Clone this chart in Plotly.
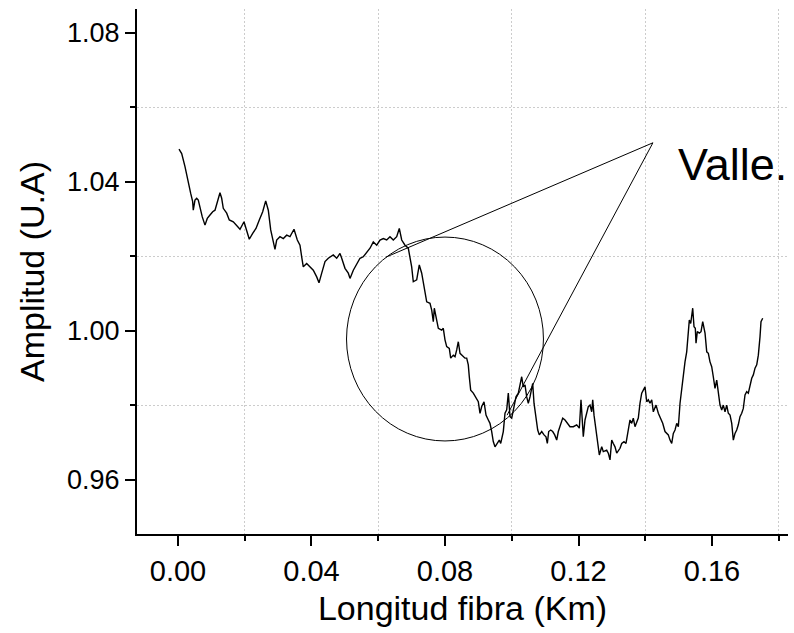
import plotly.graph_objects as go

# Fibre trace: distance along the fibre (km) and backscatter amplitude (a.u.)
longitud_km = [
    0.00030, 0.00111, 0.00210, 0.00309, 0.00381, 0.00440, 0.00458, 0.00509, 0.00560, 0.00608,
    0.00659, 0.00728, 0.00809, 0.00878, 0.00959, 0.01040, 0.01109, 0.01160, 0.01258, 0.01309,
    0.01357, 0.01459, 0.01537, 0.01657, 0.01759, 0.01858, 0.01978, 0.02058, 0.02136, 0.02238,
    0.02337, 0.02436, 0.02538, 0.02628, 0.02706, 0.02778, 0.02856, 0.02906, 0.02957, 0.03056,
    0.03155, 0.03257, 0.03356, 0.03476, 0.03575, 0.03655, 0.03706, 0.03754, 0.03856, 0.03955,
    0.04054, 0.04156, 0.04225, 0.04306, 0.04405, 0.04503, 0.04653, 0.04755, 0.04854, 0.04905,
    0.05004, 0.05103, 0.05154, 0.05253, 0.05354, 0.05453, 0.05552, 0.05654, 0.05753, 0.05852,
    0.05954, 0.06053, 0.06152, 0.06253, 0.06352, 0.06451, 0.06553, 0.06631, 0.06703, 0.06802,
    0.06900, 0.07002, 0.07050, 0.07152, 0.07230, 0.07302, 0.07350, 0.07401, 0.07452, 0.07551,
    0.07602, 0.07650, 0.07680, 0.07751, 0.07800, 0.07901, 0.07949, 0.08000, 0.08051, 0.08129,
    0.08171, 0.08249, 0.08300, 0.08351, 0.08399, 0.08450, 0.08501, 0.08549, 0.08599, 0.08650,
    0.08698, 0.08728, 0.08770, 0.08848, 0.08929, 0.08998, 0.09049, 0.09100, 0.09169, 0.09229,
    0.09298, 0.09348, 0.09399, 0.09447, 0.09498, 0.09567, 0.09627, 0.09669, 0.09747, 0.09798,
    0.09849, 0.09897, 0.09948, 0.09999, 0.10068, 0.10127, 0.10197, 0.10247, 0.10298, 0.10346,
    0.10397, 0.10448, 0.10496, 0.10547, 0.10628, 0.10667, 0.10727, 0.10778, 0.10826, 0.10898,
    0.10967, 0.11026, 0.11066, 0.11107, 0.11167, 0.11227, 0.11287, 0.11347, 0.11395, 0.11446,
    0.11527, 0.11596, 0.11665, 0.11746, 0.11845, 0.11946, 0.12025, 0.12075, 0.12144, 0.12195,
    0.12294, 0.12345, 0.12396, 0.12426, 0.12465, 0.12525, 0.12564, 0.12624, 0.12696, 0.12743,
    0.12845, 0.12893, 0.12944, 0.12995, 0.13043, 0.13094, 0.13145, 0.13244, 0.13295, 0.13363,
    0.13423, 0.13492, 0.13543, 0.13594, 0.13642, 0.13693, 0.13744, 0.13792, 0.13843, 0.13894,
    0.13942, 0.13993, 0.14044, 0.14092, 0.14143, 0.14194, 0.14242, 0.14323, 0.14392, 0.14442,
    0.14523, 0.14592, 0.14643, 0.14691, 0.14742, 0.14793, 0.14841, 0.14892, 0.14943, 0.14991,
    0.15042, 0.15093, 0.15141, 0.15191, 0.15242, 0.15290, 0.15320, 0.15362, 0.15392, 0.15422,
    0.15461, 0.15500, 0.15521, 0.15560, 0.15620, 0.15671, 0.15722, 0.15791, 0.15842, 0.15890,
    0.15940, 0.15991, 0.16039, 0.16090, 0.16141, 0.16189, 0.16240, 0.16291, 0.16339, 0.16390,
    0.16441, 0.16489, 0.16540, 0.16591, 0.16639, 0.16689, 0.16740, 0.16788, 0.16839, 0.16890,
    0.16938, 0.16989, 0.17040, 0.17088, 0.17139, 0.17190, 0.17238, 0.17289, 0.17340, 0.17388,
    0.17438, 0.17468, 0.17519,
]

amplitud = [
    1.0488, 1.0476, 1.0441, 1.0396, 1.0369, 1.0347, 1.0324, 1.0351, 1.0356, 1.0351,
    1.0329, 1.0306, 1.0284, 1.0302, 1.0311, 1.0320, 1.0324, 1.0338, 1.0371, 1.0356,
    1.0329, 1.0316, 1.0298, 1.0293, 1.0284, 1.0273, 1.0293, 1.0271, 1.0246, 1.0262,
    1.0275, 1.0298, 1.0320, 1.0349, 1.0324, 1.0271, 1.0235, 1.0219, 1.0244, 1.0253,
    1.0248, 1.0257, 1.0253, 1.0273, 1.0244, 1.0230, 1.0199, 1.0172, 1.0181, 1.0172,
    1.0163, 1.0145, 1.0129, 1.0155, 1.0186, 1.0195, 1.0204, 1.0195, 1.0208, 1.0195,
    1.0168, 1.0155, 1.0141, 1.0163, 1.0181, 1.0195, 1.0199, 1.0212, 1.0222, 1.0239,
    1.0230, 1.0244, 1.0248, 1.0244, 1.0253, 1.0244, 1.0253, 1.0275, 1.0244, 1.0230,
    1.0222, 1.0172, 1.0132, 1.0137, 1.0177, 1.0155, 1.0128, 1.0110, 1.0078, 1.0074,
    1.0056, 1.0025, 1.0061, 1.0029, 1.0007, 1.0002, 1.0007, 0.9976, 0.9958, 0.9953,
    0.9927, 0.9935, 0.9931, 0.9949, 0.9971, 0.9940, 0.9935, 0.9931, 0.9927, 0.9927,
    0.9909, 0.9877, 0.9841, 0.9833, 0.9819, 0.9810, 0.9779, 0.9797, 0.9810, 0.9774,
    0.9761, 0.9752, 0.9730, 0.9703, 0.9689, 0.9698, 0.9707, 0.9698, 0.9730, 0.9779,
    0.9788, 0.9833, 0.9770, 0.9766, 0.9797, 0.9823, 0.9833, 0.9859, 0.9877, 0.9850,
    0.9855, 0.9823, 0.9806, 0.9823, 0.9859, 0.9806, 0.9770, 0.9734, 0.9721, 0.9730,
    0.9721, 0.9716, 0.9698, 0.9730, 0.9734, 0.9730, 0.9721, 0.9707, 0.9730, 0.9743,
    0.9766, 0.9761, 0.9752, 0.9743, 0.9743, 0.9748, 0.9739, 0.9815, 0.9716, 0.9761,
    0.9797, 0.9801, 0.9783, 0.9815, 0.9774, 0.9734, 0.9716, 0.9667, 0.9689, 0.9676,
    0.9680, 0.9672, 0.9654, 0.9707, 0.9698, 0.9689, 0.9672, 0.9685, 0.9698, 0.9703,
    0.9698, 0.9739, 0.9761, 0.9752, 0.9766, 0.9743, 0.9756, 0.9766, 0.9806, 0.9833,
    0.9841, 0.9850, 0.9810, 0.9815, 0.9806, 0.9815, 0.9783, 0.9801, 0.9779, 0.9770,
    0.9752, 0.9730, 0.9725, 0.9721, 0.9707, 0.9698, 0.9725, 0.9734, 0.9752, 0.9743,
    0.9806, 0.9850, 0.9873, 0.9917, 0.9944, 1.0011, 1.0029, 1.0020, 1.0047, 1.0061,
    1.0011, 1.0007, 0.9967, 0.9998, 0.9994, 0.9998, 1.0025, 0.9994, 0.9944, 0.9940,
    0.9917, 0.9904, 0.9877, 0.9846, 0.9868, 0.9837, 0.9801, 0.9788, 0.9801, 0.9783,
    0.9801, 0.9779, 0.9774, 0.9752, 0.9707, 0.9725, 0.9734, 0.9748, 0.9770, 0.9779,
    0.9792, 0.9828, 0.9837, 0.9833, 0.9855, 0.9873, 0.9882, 0.9900, 0.9909, 0.9935,
    0.9984, 1.0025, 1.0034,
]

# Axis ticks: labelled majors, gridded minors in between
x_major = [0.00, 0.04, 0.08, 0.12, 0.16]
x_minor = [0.02, 0.06, 0.10, 0.14, 0.18]
y_major = [0.96, 1.00, 1.04, 1.08]
y_minor = [0.98, 1.02, 1.06]

FONT = "Arial, Liberation Sans, sans-serif"
GRID = dict(showgrid=True, gridcolor="#cccccc", griddash="2px,2px", gridwidth=1)

fig = go.Figure()
fig.add_trace(go.Scatter(
    x=longitud_km, y=amplitud, mode="lines",
    line=dict(color="black", width=1.4),
    showlegend=False,
))

axis_common = dict(
    showline=True, linecolor="black", linewidth=2,
    ticks="outside", ticklen=10, tickwidth=2, tickcolor="black",
    showgrid=False, zeroline=False, mirror=False,
)

fig.update_xaxes(
    **axis_common,
    range=[-0.01228, 0.18277],
    tickmode="array", tickvals=x_major,
    ticktext=[f"{v:.2f}" for v in x_major],
    tickfont=dict(family=FONT, size=29, color="black"),
    minor=dict(tickmode="array", tickvals=x_minor, ticks="outside", ticklen=5,
               tickwidth=2, tickcolor="black", **GRID),
    title=dict(text="Longitud fibra (Km)", font=dict(family=FONT, size=34, color="black"),
               standoff=10),
)
fig.update_yaxes(
    **axis_common,
    range=[0.9455, 1.0864],
    tickmode="array", tickvals=y_major,
    ticktext=[f"{v:.2f}" for v in y_major],
    tickfont=dict(family=FONT, size=27, color="black"),
    minor=dict(tickmode="array", tickvals=y_minor, ticks="outside", ticklen=5,
               tickwidth=2, tickcolor="black", **GRID),
    title=dict(text="Amplitud (U.A)", font=dict(family=FONT, size=34, color="black"),
               standoff=12),
)

# Magnifier callout: circle around the drop and two leader lines to the label
fig.add_shape(type="circle", xref="x", yref="y",
              x0=0.0505, x1=0.1095, y0=0.97047, y1=1.02519,
              line=dict(color="black", width=1))
fig.add_shape(type="line", xref="x", yref="y",
              x0=0.1423, y0=1.0505, x1=0.0623, y1=1.0198,
              line=dict(color="black", width=1))
fig.add_shape(type="line", xref="x", yref="y",
              x0=0.1423, y0=1.0505, x1=0.0986, y1=0.9774,
              line=dict(color="black", width=1))
fig.add_annotation(x=1.0, y=1.0448, xref="paper", yref="y",
                   text="Valle.", showarrow=False,
                   xanchor="right", yanchor="middle", borderpad=0,
                   font=dict(family=FONT, size=45, color="black"))

fig.update_layout(
    width=794, height=633,
    margin=dict(l=137, r=6, t=9, b=99),
    paper_bgcolor="white", plot_bgcolor="white",
)

fig.write_html("out.html")
